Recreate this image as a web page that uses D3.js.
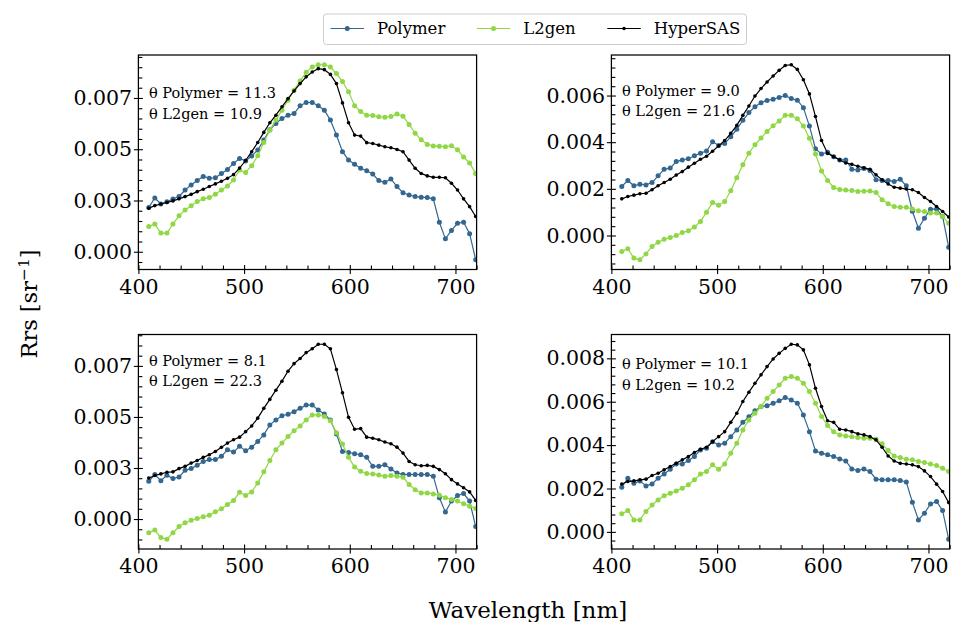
<!DOCTYPE html>
<html><head><meta charset="utf-8">
<script src="https://cdn.jsdelivr.net/npm/d3@7"></script>
<style>
body{margin:0;background:#fff}
svg{display:block}
text{font-family:"DejaVu Serif",serif;fill:#000}
</style>
</head><body>
<svg id="chart" width="953" height="622"></svg>
<script>
// ---------------- DATA (Rrs values in units of 1e-3 sr^-1) ----------------
const UNIT = 1e-3;
const wavelengths = [409.81,415.54,421.27,426.99,432.72,438.45,444.18,449.91,455.64,461.36,
  467.09,472.82,478.55,484.28,490.00,495.73,501.46,507.19,512.92,518.65,
  524.37,530.10,535.83,541.56,547.29,553.01,558.74,564.47,570.20,575.93,
  581.66,587.38,593.11,598.84,604.57,610.30,616.02,621.75,627.48,633.21,
  638.94,644.67,650.39,656.12,661.85,667.58,673.31,679.03,684.76,690.49,
  696.22,701.95,707.68,713.40,719.13];

const seriesNames = ["Polymer", "L2gen", "HyperSAS"];

// Panel 1 (top-left)
const polymer1 = [2.16,2.62,2.33,2.44,2.57,2.70,3.01,3.26,3.48,3.67,3.59,3.61,3.82,4.01,4.31,4.55,4.43,4.67,4.96,5.45,
  5.95,6.26,6.50,6.66,6.74,7.12,7.28,7.28,7.12,6.90,6.42,5.69,4.88,4.47,4.27,4.07,3.95,3.79,3.47,3.39,
  3.55,3.18,2.88,2.77,2.69,2.66,2.64,2.58,1.44,0.63,1.04,1.39,1.44,0.88,-0.39];
const l2gen1 = [1.23,1.35,0.91,0.91,1.35,1.75,2.04,2.24,2.45,2.58,2.64,2.80,3.01,3.21,3.50,3.99,3.87,4.20,4.68,5.33,
  5.93,6.42,6.90,7.39,7.88,8.33,8.75,9.01,9.12,9.12,9.01,8.69,8.30,7.80,7.12,6.84,6.66,6.65,6.58,6.56,
  6.60,6.72,6.61,6.21,5.78,5.46,5.23,5.16,5.14,5.12,5.17,4.97,4.62,4.33,3.82];
const hypersas1 = [2.12,2.25,2.33,2.40,2.48,2.58,2.69,2.80,2.93,3.05,3.18,3.31,3.44,3.58,3.76,4.08,4.45,4.88,5.33,5.82,
  6.29,6.66,7.07,7.47,7.84,8.20,8.53,8.77,8.93,8.88,8.65,8.20,7.26,6.29,5.69,5.64,5.32,5.28,5.20,5.12,
  5.07,4.99,4.88,4.47,4.07,3.82,3.70,3.63,3.63,3.61,3.34,3.01,2.58,2.20,1.72];

// Panel 2 (top-right)
const polymer2 = [2.10,2.36,2.13,2.20,2.17,2.27,2.56,2.84,2.89,3.17,3.24,3.29,3.42,3.53,3.62,4.02,3.86,3.94,4.23,4.55,
  4.94,5.27,5.52,5.69,5.79,5.84,5.92,6.00,5.87,5.80,5.48,4.69,3.72,3.49,3.57,3.38,3.24,3.24,2.84,2.81,
  2.87,2.79,2.39,2.36,2.36,2.31,2.41,2.13,1.04,0.31,0.74,1.13,1.14,0.81,-0.50];
const l2gen2 = [-0.69,-0.57,-0.97,-1.04,-0.79,-0.47,-0.29,-0.16,-0.09,0.00,0.13,0.20,0.36,0.60,1.00,1.41,1.30,1.46,1.92,2.48,
  3.03,3.53,3.89,4.18,4.46,4.70,4.91,5.15,5.15,5.01,4.69,4.17,3.49,2.77,2.36,2.06,1.97,1.95,1.93,1.89,
  1.90,1.91,1.84,1.53,1.36,1.24,1.21,1.21,1.14,1.06,1.03,0.96,0.96,0.81,0.53];
const hypersas2 = [1.57,1.67,1.73,1.79,1.81,1.96,2.13,2.27,2.41,2.59,2.74,2.93,3.10,3.27,3.40,3.61,3.84,4.07,4.38,4.72,
  5.15,5.55,5.98,6.30,6.58,6.84,7.08,7.29,7.32,7.12,6.68,6.07,5.10,4.07,3.52,3.38,3.24,3.11,3.05,2.97,
  2.90,2.84,2.60,2.39,2.21,2.07,2.03,1.99,1.96,1.84,1.63,1.46,1.24,1.03,0.79];

// Panel 3 (bottom-left)
const polymer3 = [1.85,2.18,1.88,2.14,1.98,2.06,2.39,2.47,2.63,2.82,2.91,2.91,3.07,3.39,3.28,3.56,3.35,3.51,3.80,4.12,
  4.61,4.85,5.06,5.13,5.26,5.42,5.58,5.58,5.34,5.15,4.85,4.17,3.31,3.26,3.20,3.15,3.02,2.58,2.58,2.66,
  2.45,2.26,2.18,2.18,2.18,2.18,2.18,2.10,1.04,0.34,0.88,1.15,1.25,0.88,-0.37];
const l2gen3 = [-0.67,-0.54,-0.91,-0.99,-0.67,-0.37,-0.18,-0.06,0.03,0.11,0.18,0.36,0.50,0.71,0.91,1.31,1.15,1.33,1.77,2.31,
  2.87,3.39,3.72,4.04,4.32,4.56,4.85,5.10,5.10,5.02,4.81,4.22,3.68,3.02,2.55,2.34,2.23,2.21,2.16,2.09,
  2.13,2.09,2.05,1.69,1.44,1.28,1.28,1.23,1.17,1.04,0.96,0.88,0.75,0.63,0.52];
const hypersas3 = [2.01,2.13,2.21,2.29,2.31,2.47,2.58,2.74,2.87,3.02,3.15,3.31,3.51,3.72,3.88,4.01,4.28,4.56,4.94,5.42,
  5.86,6.31,6.75,7.24,7.61,7.86,8.15,8.34,8.56,8.56,8.34,7.32,6.18,4.98,4.40,4.43,4.01,3.96,3.88,3.77,
  3.69,3.52,3.23,2.82,2.66,2.61,2.63,2.58,2.42,2.22,1.93,1.72,1.53,1.33,0.91];

// Panel 4 (bottom-right)
const polymer4 = [2.06,2.47,2.24,2.35,2.12,2.21,2.47,2.67,2.89,3.13,3.13,3.29,3.47,3.78,3.86,4.16,4.01,4.09,4.39,4.70,
  5.05,5.31,5.58,5.78,5.82,5.93,6.04,6.19,6.08,5.93,5.39,4.62,3.73,3.63,3.55,3.47,3.36,3.27,2.90,2.83,
  2.90,2.78,2.43,2.40,2.40,2.40,2.37,2.30,1.37,0.55,0.86,1.29,1.40,0.98,-0.34];
const l2gen4 = [0.83,0.98,0.55,0.55,0.94,1.24,1.47,1.67,1.78,1.89,2.01,2.17,2.40,2.67,2.78,3.09,2.89,3.13,3.63,4.09,
  4.70,5.16,5.47,5.78,6.16,6.47,6.77,7.08,7.16,7.08,6.85,6.47,5.93,5.32,4.90,4.62,4.47,4.42,4.39,4.35,
  4.32,4.32,4.27,4.06,3.75,3.50,3.43,3.35,3.32,3.24,3.20,3.13,3.06,2.93,2.78];
const hypersas4 = [2.21,2.32,2.35,2.40,2.43,2.60,2.70,2.86,3.01,3.16,3.32,3.47,3.66,3.81,3.90,4.16,4.39,4.62,5.05,5.47,
  6.01,6.44,6.85,7.24,7.62,7.97,8.23,8.46,8.65,8.62,8.39,7.70,6.62,5.78,5.12,5.05,4.73,4.70,4.62,4.52,
  4.47,4.39,4.24,3.90,3.50,3.27,3.16,3.13,3.09,3.01,2.81,2.55,2.20,1.86,1.35];

const thetaPolymer = [11.3, 9.0, 8.1, 10.1];
const thetaL2gen = [10.9, 21.6, 22.3, 10.2];
const annotY = [7.5, 6.0, 7.5, 7.5];           // baseline of annotation, 1e-3 units

const xTicks = [400, 500, 600, 700];
const yTicks1 = [0, 2.5, 5, 7.5], yTickLabels1 = ["0.000","0.003","0.005","0.007"];
const yTicks2 = [0, 2, 4, 6],     yTickLabels2 = ["0.000","0.002","0.004","0.006"];
const yTicks3 = [0, 2.5, 5, 7.5], yTickLabels3 = ["0.000","0.003","0.005","0.007"];
const yTicks4 = [0, 2, 4, 6, 8],  yTickLabels4 = ["0.000","0.002","0.004","0.006","0.008"];

// ---------------- STYLE / LAYOUT ----------------
const FONT = '"DejaVu Serif", serif';
const colors = {Polymer: "#33678f", L2gen: "#8fd744", HyperSAS: "#000000"};
const markerR = {Polymer: 2.5, L2gen: 2.5, HyperSAS: 1.8};
const W = 338.2, H = 214.5;
const origins = [{x:138.4, y:55}, {x:611.4, y:55}, {x:138.4, y:334.5}, {x:611.4, y:334.5}];

const panels = [
  {series:[polymer1,l2gen1,hypersas1], yt:yTicks1, ytl:yTickLabels1},
  {series:[polymer2,l2gen2,hypersas2], yt:yTicks2, ytl:yTickLabels2},
  {series:[polymer3,l2gen3,hypersas3], yt:yTicks3, ytl:yTickLabels3},
  {series:[polymer4,l2gen4,hypersas4], yt:yTicks4, ytl:yTickLabels4}
];

const svg = d3.select("#chart");
svg.append("rect").attr("width",953).attr("height",622).attr("fill","#fff");

panels.forEach((p, i) => {
  const o = origins[i];
  const g = svg.append("g").attr("transform", `translate(${o.x},${o.y})`);
  const x = d3.scaleLinear().domain([400, 720]).range([0, W]);
  const all = p.series.flat();
  const lo = d3.min(all), hi = d3.max(all), pad = (hi - lo) * 0.05;
  const y = d3.scaleLinear().domain([(lo - pad) * UNIT, (hi + pad) * UNIT]).range([H, 0]);

  const clipId = "clip" + i;
  g.append("clipPath").attr("id", clipId).append("rect").attr("width", W).attr("height", H);
  const plot = g.append("g").attr("clip-path", `url(#${clipId})`);

  p.series.forEach((vals, si) => {
    const name = seriesNames[si];
    const pts = vals.map((v, k) => [wavelengths[k], v * UNIT]);
    const line = d3.line().x(d => x(d[0])).y(d => y(d[1]));
    plot.append("path").datum(pts).attr("d", line)
      .attr("fill", "none").attr("stroke", colors[name]).attr("stroke-width", 1.2);
    plot.append("g").selectAll("circle").data(pts).join("circle")
      .attr("cx", d => x(d[0])).attr("cy", d => y(d[1]))
      .attr("r", markerR[name]).attr("fill", colors[name]);
  });

  // minor ticks (inside)
  const xMinor = d3.range(400, 721, 20).filter(v => !xTicks.includes(v));
  const ySpan = y.domain().map(v => v / UNIT);
  const yStep = (p.yt[1] - p.yt[0]) / 5;
  const yMinor = d3.range(Math.ceil(ySpan[0] / yStep) * yStep, ySpan[1], yStep)
    .filter(v => !p.yt.some(t => Math.abs(t - v) < 1e-6)).map(v => v * UNIT);

  const xMin = g.append("g").attr("transform", `translate(0,${H})`)
    .call(d3.axisBottom(x).tickValues(xMinor).tickSize(-4).tickFormat(""));
  const yMin = g.append("g").call(d3.axisLeft(y).tickValues(yMinor).tickSize(-4).tickFormat(""));

  // major ticks (in-out)
  const xAx = g.append("g").attr("transform", `translate(0,${H})`)
    .call(d3.axisBottom(x).tickValues(xTicks).tickSize(4.5).tickPadding(5).tickFormat(d3.format("d")));
  xAx.selectAll(".tick line").attr("y1", -4.5).attr("y2", 4.5);
  const yAx = g.append("g")
    .call(d3.axisLeft(y).tickValues(p.yt.map(v => v * UNIT)).tickSize(4.5).tickPadding(1.8)
      .tickFormat((d, j) => p.ytl[j]));
  yAx.selectAll(".tick line").attr("x1", 4.5).attr("x2", -4.5);

  [xMin, yMin, xAx, yAx].forEach(a => {
    a.attr("font-family", FONT);
    a.select(".domain").remove();
    a.selectAll(".tick line").attr("stroke", "#000").attr("stroke-width", 1.1);
    a.selectAll("text").attr("font-family", FONT).attr("font-size", 20.5).attr("fill", "#000");
  });

  g.append("rect").attr("width", W).attr("height", H)
    .attr("fill", "none").attr("stroke", "#000").attr("stroke-width", 1.25);

  // annotation
  const ax = x(410), ay = y(annotY[i] * UNIT);
  g.append("text").attr("x", ax).attr("y", ay).attr("font-size", 14.5).attr("font-family", FONT)
    .text(`\u03b8 Polymer = ${thetaPolymer[i].toFixed(1)}`);
  g.append("text").attr("x", ax).attr("y", ay + 20.6).attr("font-size", 14.5).attr("font-family", FONT)
    .text(`\u03b8 L2gen = ${thetaL2gen[i].toFixed(1)}`);
});

// axis labels
svg.append("text").attr("x", 528).attr("y", 617.5).attr("text-anchor", "middle")
  .attr("font-family", FONT).attr("font-size", 23).text("Wavelength [nm]");
const yl = svg.append("text").attr("transform", "translate(37,304) rotate(-90)")
  .attr("text-anchor", "middle").attr("font-family", FONT).attr("font-size", 22.5);
yl.append("tspan").text("Rrs [sr");
yl.append("tspan").attr("dy", -8.5).attr("font-size", 15.5).text("\u22121");
yl.append("tspan").attr("dy", 8.5).text("]");

// legend
const leg = svg.append("g");
leg.append("rect").attr("x", 323.5).attr("y", 14).attr("width", 423).attr("height", 30.5)
  .attr("rx", 3).attr("fill", "#fff").attr("stroke", "#cccccc").attr("stroke-width", 1);
const legX = [330.5, 476.8, 607.3];
seriesNames.forEach((name, i) => {
  const lx = legX[i], ly = 28.5;
  leg.append("line").attr("x1", lx).attr("x2", lx + 33.5).attr("y1", ly).attr("y2", ly)
    .attr("stroke", colors[name]).attr("stroke-width", 1.2);
  leg.append("circle").attr("cx", lx + 16.75).attr("cy", ly).attr("r", markerR[name]).attr("fill", colors[name]);
  leg.append("text").attr("x", lx + 46.5).attr("y", ly + 5.8).attr("font-family", FONT)
    .attr("font-size", 16.5).text(name);
});
</script>
</body></html>
